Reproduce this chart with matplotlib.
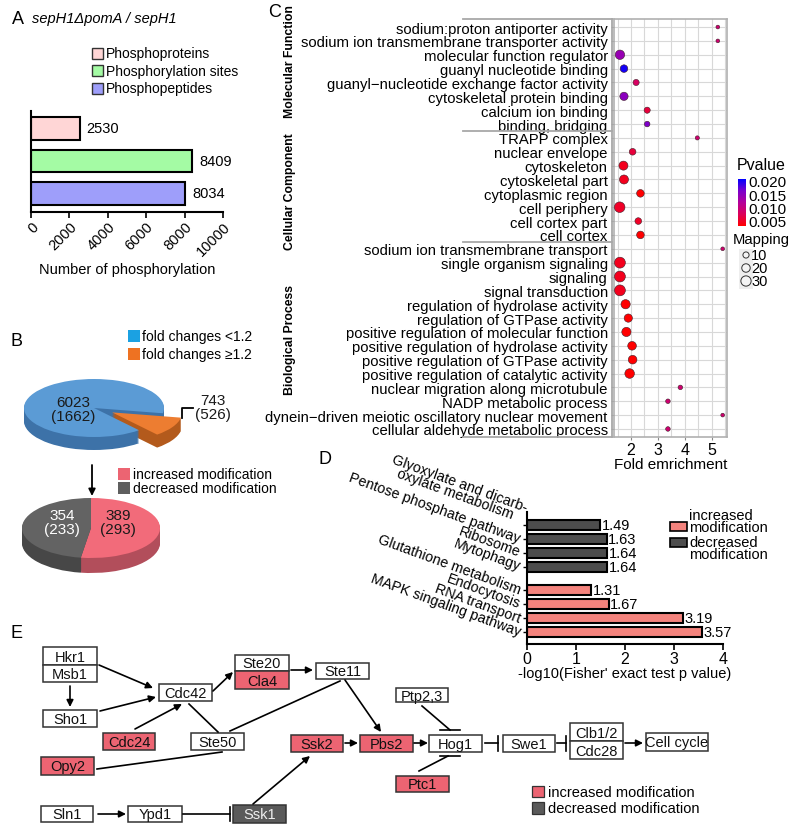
import numpy as np
import matplotlib
matplotlib.use('Agg')
import matplotlib.pyplot as plt
from matplotlib.colors import LinearSegmentedColormap, Normalize
from matplotlib.patches import Rectangle
from matplotlib.transforms import blended_transform_factory
import matplotlib.cm as cm

plt.rcParams['font.family'] = ['Liberation Sans', 'DejaVu Sans']

# ---------------- data ----------------
# Panel A
a_labels = ['Phosphoproteins', 'Phosphorylation sites', 'Phosphopeptides']
a_values = [2530, 8409, 8034]
a_colors = ['#FFD6D6', '#A4FBA4', '#9E9EFA']

# Panel B
b_top_labels = ['fold changes <1.2', 'fold changes \u22651.2']
b_top_values = [6023, 743]
b_top_proteins = [1662, 526]
b_bot_labels = ['increased modification', 'decreased modification']
b_bot_values = [389, 354]
b_bot_proteins = [293, 233]

# Panel C
mf_terms = ['sodium:proton antiporter activity', 'sodium ion transmembrane transporter activity',
            'molecular function regulator', 'guanyl nucleotide binding',
            'guanyl\u2212nucleotide exchange factor activity', 'cytoskeletal protein binding',
            'calcium ion binding', 'binding, bridging']
mf_fold = [5.22, 5.22, 1.59, 1.74, 2.19, 1.74, 2.60, 2.60]
mf_count = [3, 3, 25, 16, 10, 19, 10, 8]
mf_p = [0.009, 0.009, 0.014, 0.020, 0.008, 0.015, 0.006, 0.016]

cc_terms = ['TRAPP complex', 'nuclear envelope', 'cytoskeleton', 'cytoskeletal part',
            'cytoplasmic region', 'cell periphery', 'cell cortex part', 'cell cortex']
cc_fold = [4.46, 2.06, 1.72, 1.74, 2.35, 1.58, 2.27, 2.35]
cc_count = [4, 12, 23, 23, 16, 32, 12, 16]
cc_p = [0.009, 0.006, 0.0045, 0.0045, 0.002, 0.005, 0.005, 0.002]

bp_terms = ['sodium ion transmembrane transport', 'single organism signaling', 'signaling',
            'signal transduction', 'regulation of hydrolase activity', 'regulation of GTPase activity',
            'positive regulation of molecular function', 'positive regulation of hydrolase activity',
            'positive regulation of GTPase activity', 'positive regulation of catalytic activity',
            'nuclear migration along microtubule', 'NADP metabolic process',
            'dynein\u2212driven meiotic oscillatory nuclear movement', 'cellular aldehyde metabolic process']
bp_fold = [5.40, 1.59, 1.59, 1.59, 1.80, 1.90, 1.83, 2.04, 2.06, 1.95, 3.83, 3.37, 5.40, 3.37]
bp_count = [3, 34, 34, 34, 24, 19, 24, 21, 21, 26, 5, 5, 3, 5]
bp_p = [0.009, 0.0045, 0.0045, 0.0045, 0.003, 0.003, 0.002, 0.002, 0.002, 0.001, 0.009, 0.009, 0.009, 0.009]
c_groups = ['Molecular Function', 'Cellular Component', 'Biological Process']
size_legend = [10, 20, 30]
p_ticks = [0.005, 0.010, 0.015, 0.020]

# Panel D
d_dec_terms = ['Glyoxylate and dicarb-\noxylate metabolism', 'Pentose phosphate pathway', 'Ribosome', 'Mytophagy']
d_dec_vals = [1.49, 1.63, 1.64, 1.64]
d_inc_terms = ['Glutathione metabolism', 'Endocytosis', 'RNA transport', 'MAPK singaling pathway']
d_inc_vals = [1.31, 1.67, 3.19, 3.57]

# Panel E
e_nodes = ['Hkr1', 'Msb1', 'Sho1', 'Cdc24', 'Opy2', 'Cdc42', 'Ste20', 'Cla4', 'Ste11', 'Ste50',
           'Ssk2', 'Pbs2', 'Sln1', 'Ypd1', 'Ssk1', 'Ptp2,3', 'Hog1', 'Ptc1', 'Swe1', 'Clb1/2',
           'Cdc28', 'Cell cycle']
e_status = {'Cdc24': 'inc', 'Opy2': 'inc', 'Cla4': 'inc', 'Ssk2': 'inc', 'Pbs2': 'inc',
            'Ptc1': 'inc', 'Ssk1': 'dec'}

# ---------------- figure ----------------
W, H = 790, 829
fig = plt.figure(figsize=(W / 100, H / 100), dpi=100, facecolor='white')


def px_axes(l, t, r, b, **kw):
    return fig.add_axes([l / W, 1 - b / H, (r - l) / W, (b - t) / H], **kw)


ax0 = px_axes(0, 0, W, H)
ax0.set_zorder(5)
ax0.axis('off')

PINK = '#EC6472'
DGRAY = '#5A5A5A'

# ---------- Panel A ----------
axA = px_axes(31, 112, 223, 213)
yA = np.arange(len(a_values))
axA.barh(yA, a_values, height=0.7, color=a_colors, edgecolor='black', linewidth=1.5)
axA.set_xlim(0, 10000)
axA.set_ylim(2.58, -0.54)
axA.set_yticks([])
for s in ['top', 'right']:
    axA.spines[s].set_visible(False)
for s in ['left', 'bottom']:
    axA.spines[s].set_linewidth(1.5)
axA.set_xticks(np.arange(0, 10001, 2000))
axA.tick_params(axis='x', labelsize=10.5, width=1.2, length=4, pad=1)
for lab in axA.get_xticklabels():
    lab.set_rotation(45)
    lab.set_ha('right')
    lab.set_rotation_mode('anchor')
for i, v in enumerate(a_values):
    axA.text(v + 350, i, f'{v}', va='center', ha='left', fontsize=10.5)
axA.set_xlabel('Number of phosphorylation', fontsize=10.5, labelpad=3)

ax0.text(12, 19, 'A', fontsize=13, va='center')
ax0.text(32, 19, 'sepH1\u0394pomA / sepH1', fontsize=10.5, style='italic', va='center')
for i, (lab, col) in enumerate(zip(a_labels, a_colors)):
    yy = 54 + i * 17.5
    ax0.add_patch(Rectangle((92, yy - 5.5), 11, 11, fc=col, ec='#333333', lw=1.0))
    ax0.text(106, yy, lab, fontsize=10, va='center')

# ---------- Panel B ----------
ax0.text(10, 341, 'B', fontsize=13, va='center')
for i, (lab, col) in enumerate(zip(b_top_labels, ['#1BA1E2', '#EE7222'])):
    yy = 337 + i * 18
    ax0.add_patch(Rectangle((128, yy - 6), 12, 12, fc=col, ec='none'))
    ax0.text(142, yy, lab, fontsize=10, va='center')


def pie3d(ax, vals, cx, cy, rx, ry, depth, box, top_cols, side_cols, **kw):
    l, t, r, b = box
    for k in range(depth, 0, -1):
        ax.pie(vals, colors=side_cols, center=(0, -k / ry), wedgeprops=dict(linewidth=0), **kw)
    ax.pie(vals, colors=top_cols, center=(0, 0), wedgeprops=dict(linewidth=0), **kw)
    ax.set_aspect('auto')
    ax.set_xlim((l - cx) / rx, (r - cx) / rx)
    ax.set_ylim((cy - b) / ry, (cy - t) / ry)
    ax.axis('off')


boxB1 = (5, 365, 205, 470)
axB1 = px_axes(*boxB1)
pie3d(axB1, b_top_values[::-1], 94, 409, 70, 29, 13, boxB1,
      ['#ED7D31', '#5B9BD5'], ['#B35A1C', '#3D72A8'],
      startangle=-50, explode=(0.3, 0))
ax0.text(73, 410, f'{b_top_values[0]}\n({b_top_proteins[0]})', fontsize=11, ha='center',
         va='center', color='#1A1A1A', linespacing=1.05)
ax0.text(213, 408, f'{b_top_values[1]}\n({b_top_proteins[1]})', fontsize=11, ha='center',
         va='center', color='#1A1A1A', linespacing=1.05)
ax0.plot([182, 182, 193], [419, 409, 409], color='black', lw=1.3)
ax0.annotate('', xy=(92, 497), xytext=(92, 466),
             arrowprops=dict(arrowstyle='-|>', color='black', lw=1.3, mutation_scale=10,
                             shrinkA=0, shrinkB=0))
for i, (lab, col) in enumerate(zip(b_bot_labels, [PINK, '#5F5F5F'])):
    yy = 475 + i * 14
    ax0.add_patch(Rectangle((118, yy - 6), 12, 12, fc=col, ec='none'))
    ax0.text(133, yy, lab, fontsize=10, va='center')

boxB2 = (5, 490, 185, 585)
axB2 = px_axes(*boxB2)
pie3d(axB2, b_bot_values, 91, 529, 69, 30, 15, boxB2,
      ['#F26B7A', '#636363'], ['#B24E5B', '#474747'],
      startangle=90, counterclock=False)
ax0.text(62, 523, f'{b_bot_values[1]}\n({b_bot_proteins[1]})', fontsize=11, ha='center',
         va='center', color='white', linespacing=1.05)
ax0.text(118, 523, f'{b_bot_values[0]}\n({b_bot_proteins[0]})', fontsize=11, ha='center',
         va='center', color='#1A1A1A', linespacing=1.05)

# ---------- Panel C ----------
ax0.text(268, 12, 'C', fontsize=13, va='center')
terms = mf_terms + cc_terms + bp_terms
fold = mf_fold + cc_fold + bp_fold
count = np.array(mf_count + cc_count + bp_count)
pv = mf_p + cc_p + bp_p
n = len(terms)
yC = np.arange(n)
cmap = LinearSegmentedColormap.from_list('pv', ['#FF0000', '#DC0058', '#B4009A', '#7A00CC', '#0000FF'])
norm = Normalize(vmin=0.003, vmax=0.0207)

axC = px_axes(614, 20, 727, 438)
size_of = lambda c: 2 + 1.75 * np.asarray(c)
axC.scatter(fold, yC, s=size_of(count), c=pv, cmap=cmap, norm=norm,
            edgecolors='#40202A', linewidths=0.4, zorder=3)
axC.set_xlim(1.37, 5.56)
axC.set_ylim(n - 0.42, -0.58)
axC.set_xticks([2, 3, 4, 5])
axC.set_xticks([1.5, 2.5, 3.5, 4.5, 5.5], minor=True)
axC.set_yticks(yC)
axC.set_yticklabels(terms, fontsize=10.7)
axC.grid(True, which='both', color='#D8D8D8', lw=0.8, zorder=0)
axC.set_axisbelow(True)
axC.tick_params(axis='y', length=2.5, color='#888888', pad=2)
axC.tick_params(axis='x', which='major', length=2.5, color='#888888', labelsize=11.5, pad=1)
axC.tick_params(axis='x', which='minor', length=0)
for s in axC.spines.values():
    s.set_color('#B0B0B0')
    s.set_linewidth(1.2)
axC.set_xlabel('Fold emrichment', fontsize=11, labelpad=0)

blend = blended_transform_factory(ax0.transData, axC.transData)
bounds = [-0.58, len(mf_terms) - 0.5, len(mf_terms) + len(cc_terms) - 0.5, n - 0.42]
for bnd in bounds:
    ax0.plot([463, 612], [bnd, bnd], color='#A8A8A8', lw=1.3, transform=blend)
ax0.plot([612, 612], [bounds[0], bounds[-1]], color='#A8A8A8', lw=1.3, transform=blend)
group_label_y = [62, 192, 340]
for g, gy in zip(c_groups, group_label_y):
    ax0.text(290, gy, g, rotation=90, fontsize=8.8, fontweight='bold', ha='center',
             va='center')

cax = px_axes(738, 180, 746, 227)
cb = fig.colorbar(cm.ScalarMappable(norm=norm, cmap=cmap), cax=cax)
cb.set_ticks(p_ticks)
cb.set_ticklabels([f'{t:.3f}' for t in p_ticks])
cb.outline.set_visible(False)
cax.tick_params(length=0, labelsize=11, pad=2)
ax0.text(737, 165, 'Pvalue', fontsize=11.5, va='center')
ax0.text(733, 240, 'Mapping', fontsize=10.6, va='center')
ax0.add_patch(Rectangle((739, 250), 14, 40, fc='#EEEEEE', ec='none', zorder=1))
leg_y = [256, 269, 282]
ax0.scatter([746] * 3, leg_y, s=size_of(size_legend), facecolors='#F4F4F4',
            edgecolors='#333333', linewidths=0.7, zorder=2)
for yy, sz in zip(leg_y, size_legend):
    ax0.text(751, yy, f'{sz}', fontsize=10.5, va='center')

# ---------- Panel D ----------
ax0.text(318, 460, 'D', fontsize=13, va='center')
axD = px_axes(527, 513, 723, 645)
y_inc = np.arange(len(d_inc_vals))[::-1].astype(float)
y_dec = y_inc + len(d_inc_vals) + 0.7
axD.barh(y_dec, d_dec_vals, height=0.72, color='#4D4D4D', edgecolor='black', linewidth=1.5)
axD.barh(y_inc, d_inc_vals, height=0.72, color='#F4837D', edgecolor='black', linewidth=1.5)
for yy, v in zip(list(y_dec) + list(y_inc), d_dec_vals + d_inc_vals):
    axD.text(v + 0.03, yy, f'{v:.2f}', va='center', ha='left', fontsize=10.5)
axD.set_xlim(0, 4)
axD.set_ylim(-0.86, 8.63)
axD.set_yticks(list(y_dec) + list(y_inc))
axD.set_yticklabels(d_dec_terms + d_inc_terms, fontsize=10.3)
for lab in axD.get_yticklabels():
    lab.set_rotation(-20)
    lab.set_rotation_mode('anchor')
    lab.set_ha('right')
    if '\n' in lab.get_text():
        lab.set_va('bottom')
        lab.set_multialignment('center')
        lab.set_linespacing(0.8)
    else:
        lab.set_va('center')
axD.set_xticks([0, 1, 2, 3, 4])
axD.tick_params(axis='x', labelsize=11.5, width=1.2, length=4, pad=1)
axD.tick_params(axis='y', width=1.0, length=3, pad=2)
for s in ['top', 'right']:
    axD.spines[s].set_visible(False)
for s in ['left', 'bottom']:
    axD.spines[s].set_linewidth(1.5)
axD.set_xlabel("-log10(Fisher' exact test p value)", fontsize=10.5, labelpad=0)
ax0.add_patch(Rectangle((670, 523), 17, 9, fc='#F4837D', ec='black', lw=1.2))
ax0.add_patch(Rectangle((670, 539), 17, 9, fc='#4D4D4D', ec='black', lw=1.2))
ax0.text(689, 522, 'increased\nmodification', fontsize=10.5, va='center', linespacing=0.82)
ax0.text(689, 549, 'decreased\nmodification', fontsize=10.5, va='center', linespacing=0.82)

# ---------- Panel E ----------
ax0.text(10, 633, 'E', fontsize=13, va='center')
layout = {
    'Hkr1': (43, 648, 97, 666), 'Msb1': (43, 666, 97, 683), 'Sho1': (43, 711, 97, 728),
    'Cdc24': (103, 734, 155, 751), 'Opy2': (41, 758, 94, 776), 'Cdc42': (159, 685, 212, 702),
    'Ste20': (235, 656, 289, 672), 'Cla4': (235, 672, 289, 690), 'Ste11': (316, 664, 369, 680),
    'Ste50': (191, 734, 244, 751), 'Ssk2': (291, 736, 343, 753), 'Pbs2': (360, 736, 413, 753),
    'Sln1': (41, 807, 93, 823), 'Ypd1': (128, 807, 182, 823), 'Ssk1': (233, 806, 286, 824),
    'Ptp2,3': (396, 689, 448, 703), 'Hog1': (429, 736, 482, 753), 'Ptc1': (396, 777, 449, 793),
    'Swe1': (503, 736, 555, 753), 'Clb1/2': (570, 724, 623, 742), 'Cdc28': (570, 742, 623, 760),
    'Cell cycle': (646, 734, 708, 752),
}
for name in e_nodes:
    x0, y0, x1, y1 = layout[name]
    st = e_status.get(name)
    fc = PINK if st == 'inc' else (DGRAY if st == 'dec' else 'white')
    tc = '#EEEEEE' if st == 'dec' else '#111111'
    ax0.add_patch(Rectangle((x0, y0), x1 - x0, y1 - y0, fc=fc, ec='#333333', lw=1.1))
    ax0.text((x0 + x1) / 2, (y0 + y1) / 2 + 0.5, name, fontsize=10.5, ha='center', va='center', color=tc)


def arrow(p, q):
    ax0.annotate('', xy=q, xytext=p,
                 arrowprops=dict(arrowstyle='-|>', color='black', lw=1.2, mutation_scale=10,
                                 shrinkA=0, shrinkB=0))


def line(p, q):
    ax0.plot([p[0], q[0]], [p[1], q[1]], color='black', lw=1.2)


arrow((99, 666), (153, 689))
arrow((70, 687), (70, 708))
arrow((100, 712), (156, 698))
arrow((135, 730), (182, 705))
arrow((213, 692), (233, 673))
line((189, 705), (218, 733))
line((230, 732), (340, 682))
line((97, 770), (222, 753))
arrow((291, 671), (313, 671))
arrow((345, 681), (381, 733))
arrow((345, 744), (358, 744))
arrow((253, 805), (310, 757))
arrow((98, 815), (126, 815))
line((183, 815), (230, 815)); line((230, 808), (230, 822))
arrow((414, 744), (428, 744))
line((422, 707), (450, 731)); line((440, 731), (460, 731))
line((419, 772), (448, 757)); line((440, 757), (460, 757))
line((485, 744), (498, 744)); line((498, 737), (498, 752))
line((557, 744), (566, 744)); line((566, 737), (566, 752))
arrow((625, 744), (643, 744))

ax0.add_patch(Rectangle((532, 787), 12, 11, fc=PINK, ec='#333333', lw=0.9))
ax0.add_patch(Rectangle((532, 803), 12, 12, fc=DGRAY, ec='#333333', lw=0.9))
ax0.text(548, 793, 'increased modification', fontsize=10.5, va='center')
ax0.text(548, 809, 'decreased modification', fontsize=10.5, va='center')

ax0.set_xlim(0, W)
ax0.set_ylim(H, 0)
fig.savefig('out.png', dpi=100, facecolor='white')
